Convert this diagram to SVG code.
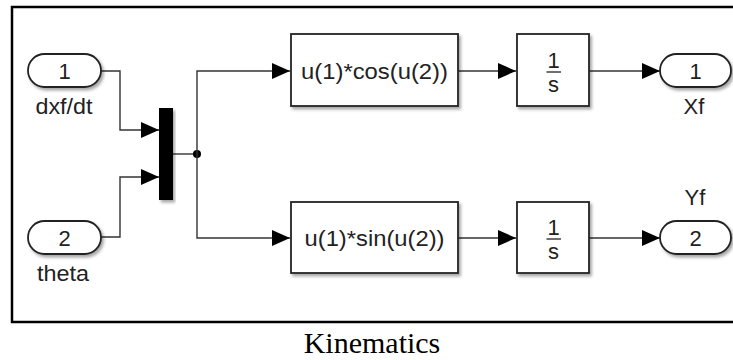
<svg xmlns="http://www.w3.org/2000/svg" width="733" height="360" viewBox="0 0 733 360">
  <defs>
    <filter id="sh" x="-20%" y="-20%" width="140%" height="140%">
      <feDropShadow dx="2" dy="2.5" stdDeviation="1.5" flood-color="#000" flood-opacity="0.35"/>
    </filter>
    <marker id="arr" viewBox="0 0 18 16" refX="18" refY="8" markerWidth="18" markerHeight="16" markerUnits="userSpaceOnUse" orient="auto">
      <path d="M0,0 L18,8 L0,16 Z" fill="#000"/>
    </marker>
    <style>
      .blk { fill: #fff; stroke: #222; stroke-width: 1.8; filter: url(#sh); }
      .port { fill: #fff; stroke: #222; stroke-width: 1.8; filter: url(#sh); }
      .ln { fill: none; stroke: #333; stroke-width: 1.4; }
      .t { font-family: "Liberation Sans", Arial, sans-serif; font-size: 22px; fill: #222; text-anchor: middle; }
      .cap { font-family: "Liberation Serif", "Times New Roman", serif; font-size: 30px; fill: #000; text-anchor: middle; }
    </style>
  </defs>

  <rect id="frame" x="12" y="7" width="730" height="315" fill="none" stroke="#000" stroke-width="2.5"/>

  <g id="connectors">
    <polyline class="ln" points="101,71 120,71 120,130 159,130" marker-end="url(#arr)"/>
    <polyline class="ln" points="101,237 120,237 120,177 159,177" marker-end="url(#arr)"/>
    <line class="ln" x1="173" y1="154" x2="197" y2="154"/>
    <circle cx="197" cy="154" r="4" fill="#000"/>
    <polyline class="ln" points="270,71 197,71 197,238 270,238"/>
    <line class="ln" x1="270" y1="71" x2="290" y2="71" marker-end="url(#arr)"/>
    <line class="ln" x1="270" y1="238" x2="290" y2="238" marker-end="url(#arr)"/>
    <line class="ln" x1="458" y1="71" x2="516" y2="71" marker-end="url(#arr)"/>
    <line class="ln" x1="458" y1="238" x2="516" y2="238" marker-end="url(#arr)"/>
    <line class="ln" x1="589" y1="71" x2="660" y2="71" marker-end="url(#arr)"/>
    <line class="ln" x1="589" y1="238" x2="660" y2="238" marker-end="url(#arr)"/>
  </g>

  <g id="in1">
    <rect class="port" x="28" y="54" width="73" height="33" rx="16.5"/>
    <text class="t" x="64.5" y="79">1</text>
    <text class="t" x="64" y="114" textLength="57" lengthAdjust="spacingAndGlyphs">dxf/dt</text>
  </g>
  <g id="in2">
    <rect class="port" x="28" y="221" width="73" height="33" rx="16.5"/>
    <text class="t" x="64.5" y="246">2</text>
    <text class="t" x="63" y="281" textLength="52" lengthAdjust="spacingAndGlyphs">theta</text>
  </g>
  <g id="mux">
    <rect x="159" y="108" width="14" height="92" fill="#000" filter="url(#sh)"/>
  </g>
  <g id="fcn1">
    <rect class="blk" x="291" y="34" width="167" height="72"/>
    <text class="t" x="374.5" y="78.5" textLength="147" lengthAdjust="spacingAndGlyphs">u(1)*cos(u(2))</text>
  </g>
  <g id="fcn2">
    <rect class="blk" x="291" y="202" width="167" height="71"/>
    <text class="t" x="374.5" y="245.5" textLength="140" lengthAdjust="spacingAndGlyphs">u(1)*sin(u(2))</text>
  </g>
  <g id="int1">
    <rect class="blk" x="517" y="34" width="72" height="72"/>
    <text class="t" x="553.5" y="68">1</text>
    <line x1="546.5" y1="72" x2="561" y2="72" stroke="#333" stroke-width="1.4"/>
    <text class="t" x="553.5" y="92">s</text>
  </g>
  <g id="int2">
    <rect class="blk" x="517" y="202" width="72" height="71"/>
    <text class="t" x="553.5" y="235">1</text>
    <line x1="546.5" y1="239" x2="561" y2="239" stroke="#333" stroke-width="1.4"/>
    <text class="t" x="553.5" y="259">s</text>
  </g>
  <g id="out1">
    <rect class="port" x="660" y="54" width="71" height="33" rx="16.5"/>
    <text class="t" x="695.5" y="79">1</text>
    <text class="t" x="694" y="114">Xf</text>
  </g>
  <g id="out2">
    <rect class="port" x="660" y="221" width="71" height="33" rx="16.5"/>
    <text class="t" x="695.5" y="246">2</text>
    <text class="t" x="695" y="205">Yf</text>
  </g>

  <text class="cap" x="372" y="353">Kinematics</text>
</svg>
